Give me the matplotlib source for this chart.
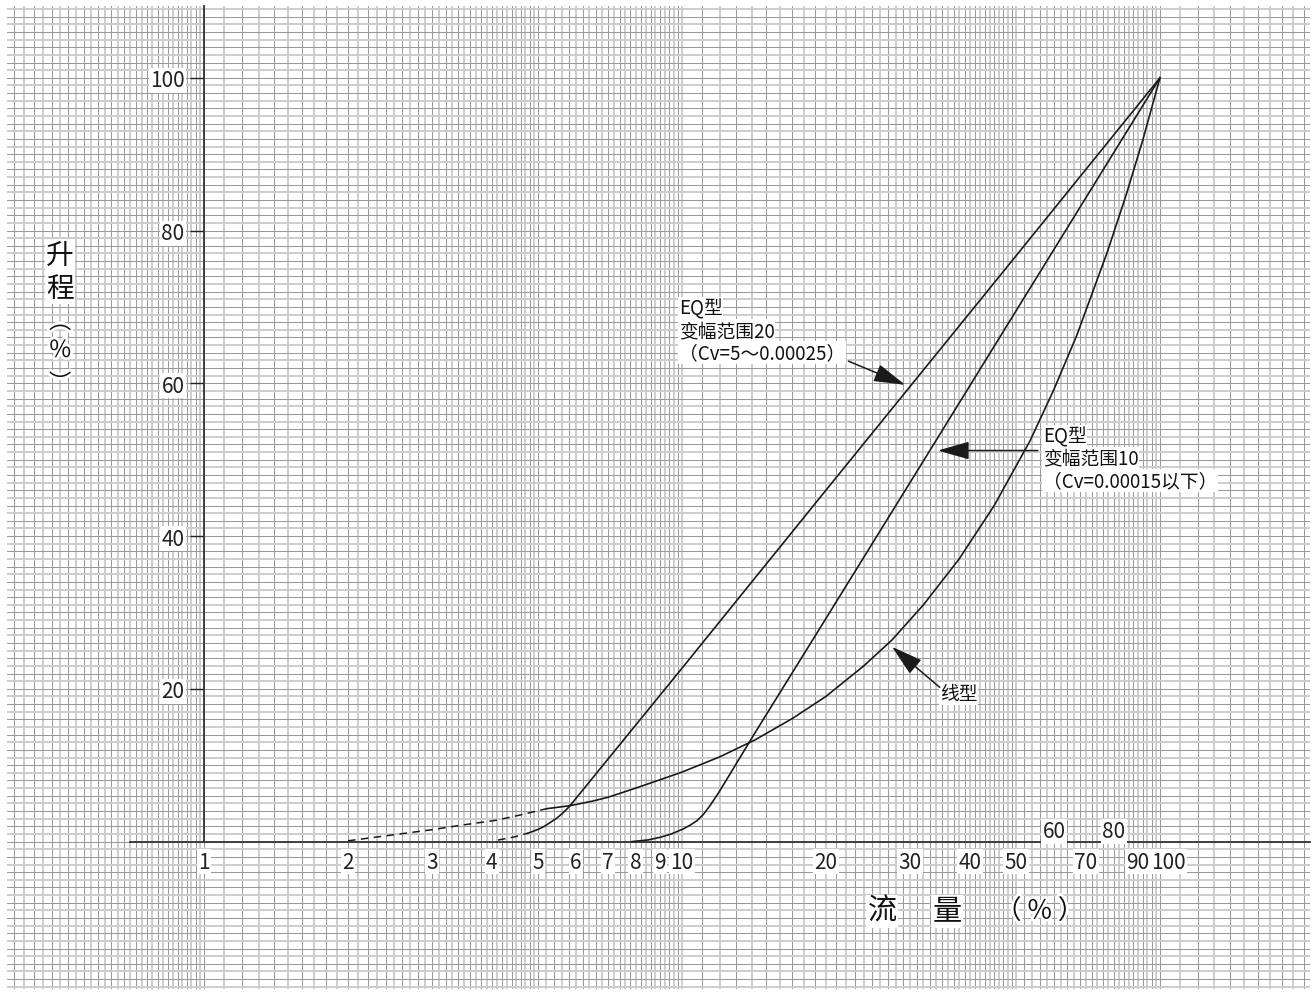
import matplotlib
matplotlib.use("Agg")
import matplotlib.pyplot as plt
import matplotlib.patheffects as pe
import numpy as np

plt.rcParams["font.family"] = ["Noto Sans CJK SC", "DejaVu Sans"]

# flow (%) against lift (%) for the three trims
lin_dash_flow = [2.0, 2.5, 3.0, 3.5, 4.09, 4.6, 5.2]
lin_dash_lift = [0.1, 0.9, 1.56, 2.2, 2.8, 3.5, 4.3]
lin_flow = [5.2, 5.83, 6.5, 7.0, 8.0, 9.0, 10.0, 12.0, 14.2, 17.0, 20.0, 24.0, 27.5,
            32.0, 38.0, 45.0, 53.5, 60.0, 67.0, 77.7, 85.0, 92.0, 100.0]
lin_lift = [4.3, 4.7, 5.3, 5.8, 7.0, 8.1, 9.1, 11.1, 13.3, 16.1, 19.0, 23.0, 26.4,
            31.0, 37.0, 44.0, 52.5, 59.2, 66.3, 77.3, 84.7, 91.8, 100.0]

eq20_dash_flow = [4.12, 4.45, 4.76]
eq20_dash_lift = [0.2, 0.6, 1.1]
eq20_flow = [4.76, 5.0, 5.15, 5.3, 5.45, 5.6, 5.72, 5.83, 10.0, 20.0, 50.0, 100.0]
eq20_lift = [1.1, 1.6, 2.0, 2.5, 3.0, 3.6, 4.15, 4.7, 22.7, 46.0, 76.7, 100.0]

eq10_flow = [7.86, 8.5, 9.0, 9.5, 10.05, 10.4, 10.75, 11.1, 11.44, 11.9, 12.42,
             14.2, 20.0, 34.3, 50.0, 100.0]
eq10_lift = [0.0, 0.22, 0.56, 1.0, 1.65, 2.15, 2.74, 3.6, 4.7, 6.3, 8.2,
             14.2, 29.2, 52.9, 69.5, 100.0]

x_labels_below = [1, 2, 3, 4, 5, 6, 7, 8, 9, 10, 20, 30, 40, 50, 70, 90, 100]
x_labels_above = [60, 80]
y_ticks = [20, 40, 60, 80, 100]

INK = "#1a1a1a"
TXT = "#111111"
white_box = dict(facecolor="white", edgecolor="none", pad=1.0)

fig = plt.figure(figsize=(13.16, 9.95), dpi=100)
ax = fig.add_axes([7 / 1316, 5 / 995, 1303 / 1316, 983 / 995])
ax.set_xscale("log")
ax.set_xlim(0.387, 206)
ax.set_ylim(-19.3, 109.4)

# semi-log graph paper: thin dark rules alternating with broader pale ones
sub = np.concatenate([np.arange(1, 2, 0.1), np.arange(2, 5, 0.1), np.arange(5, 10, 0.2)])
xgrid = np.concatenate([np.arange(0.40, 1.0, 0.02), sub, sub * 10, np.arange(100, 206, 10)])


def rule_style(i):
    if i % 2 == 0:
        return dict(color="#9a9a9a", lw=0.75)
    return dict(color="#cdcdcd", lw=1.4)


for i, gx in enumerate(xgrid):
    ax.axvline(gx, zorder=0.5, **rule_style(i))
for gy in range(-19, 110):
    ax.axhline(gy, zorder=0.5, **rule_style(gy))

# lift axis at flow 1 %, flow axis at lift 0
for side in ("top", "right"):
    ax.spines[side].set_visible(False)
ax.spines["left"].set_position(("data", 1))
ax.spines["left"].set_bounds(0, 109.4)
ax.spines["bottom"].set_position(("data", 0))
ax.spines["bottom"].set_bounds(0.70, 206)
for side in ("left", "bottom"):
    ax.spines[side].set_color("#333333")
    ax.spines[side].set_linewidth(1.3)

ax.set_xticks([])
ax.set_xticks([], minor=True)
ax.set_yticks(y_ticks)
ax.tick_params(axis="y", direction="out", length=10, width=1.0, pad=4,
               labelsize=15, colors="#222222")
for t in ax.get_yticklabels():
    t.set_bbox(white_box)

for v in x_labels_below:
    dx = 6 if v == 100 else 0
    ax.annotate(str(v), (v, 0), xytext=(dx, -14.5), textcoords="offset points",
                ha="center", va="center", fontsize=15, color="#222222",
                bbox=white_box, zorder=4)
for v in x_labels_above:
    ax.annotate(str(v), (v, 0), xytext=(0, 7.5), textcoords="offset points",
                ha="center", va="center", fontsize=15, color="#222222",
                bbox=white_box, zorder=4)

# characteristic curves
dash = (0, (5, 3.5))
ax.plot(lin_dash_flow, lin_dash_lift, color=INK, lw=1.1, ls=dash, zorder=3)
ax.plot(lin_flow, lin_lift, color=INK, lw=1.2, zorder=3)
ax.plot(eq20_dash_flow, eq20_dash_lift, color=INK, lw=1.1, ls=dash, zorder=3)
ax.plot(eq20_flow, eq20_lift, color=INK, lw=1.2, zorder=3)
ax.plot(eq10_flow, eq10_lift, color=INK, lw=1.2, zorder=3)


def label_block(x, y, lines, size=13.5):
    for k, line in enumerate(lines):
        ax.annotate(line, (x, y), xytext=(0, -16 * k), textcoords="offset points",
                    ha="left", va="top", fontsize=size, color=TXT,
                    bbox=dict(facecolor="white", edgecolor="none", pad=0.5), zorder=4)


arrow = dict(arrowstyle="-|>,head_length=1.4,head_width=0.4", mutation_scale=14,
             color=INK, lw=1.1, shrinkA=0, shrinkB=0)

label_block(9.85, 71.2, ["EQ型", "变幅范围20", "（Cv=5～0.00025）"])
ax.annotate("", xy=(29.3, 59.8), xytext=(22.3, 62.9), arrowprops=arrow, zorder=5)

label_block(56.9, 54.5, ["EQ型", "变幅范围10", "（Cv=0.00015以下）"])
ax.annotate("", xy=(34.3, 51.2), xytext=(55.5, 51.2), arrowprops=arrow, zorder=5)

ax.text(34.6, 19.4, "线型", ha="left", va="center", fontsize=13.5, color=TXT,
        bbox=dict(facecolor="white", edgecolor="none", pad=0.5), zorder=4)
ax.annotate("", xy=(27.5, 25.5), xytext=(34.6, 20.2), arrowprops=arrow, zorder=5)

# axis titles
halo = [pe.withStroke(linewidth=4, foreground="white")]
ax.text(26.2, -9.1, "流", ha="center", va="center", fontsize=21, color=TXT,
        bbox=white_box, zorder=4)
ax.text(35.9, -9.1, "量", ha="center", va="center", fontsize=21, color=TXT,
        bbox=white_box, zorder=4)
ax.text(56.0, -9.1, "（ % ）", ha="center", va="center", fontsize=19, color=TXT,
        path_effects=halo, zorder=4)

ax.text(0.50, 76.8, "升", ha="center", va="center", fontsize=20, color=TXT,
        bbox=white_box, zorder=4)
ax.text(0.50, 72.5, "程", ha="center", va="center", fontsize=20, color=TXT,
        bbox=white_box, zorder=4)
ax.text(0.50, 68.0, "︵", ha="center", va="center", fontsize=16, color=TXT,
        path_effects=halo, zorder=4)
ax.text(0.50, 64.3, "%", ha="center", va="center", fontsize=17, color=TXT,
        path_effects=halo, zorder=4)
ax.text(0.50, 60.0, "︶", ha="center", va="center", fontsize=16, color=TXT,
        path_effects=halo, zorder=4)

fig.savefig("out.png", dpi=100, facecolor="white")
